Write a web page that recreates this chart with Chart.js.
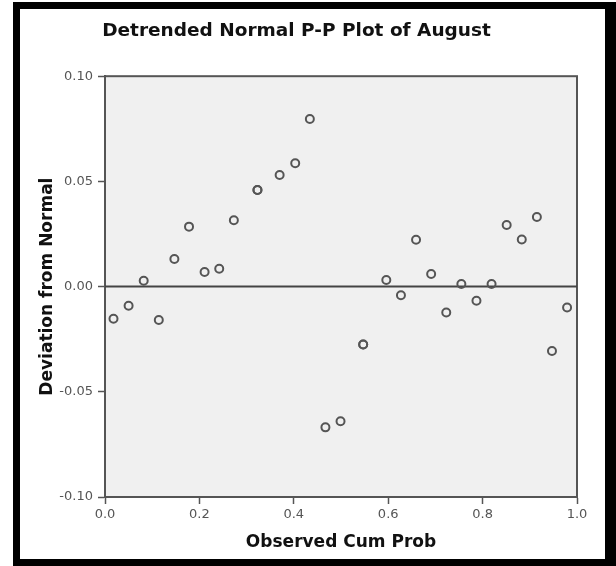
<!DOCTYPE html>
<html>
<head>
<meta charset="utf-8">
<title>Detrended Normal P-P Plot of August</title>
<script src="https://cdn.jsdelivr.net/npm/chart.js@4/dist/chart.umd.min.js"></script>
<style>
    html, body { margin: 0; padding: 0; background: #fff; }
    #wrap { position: relative; width: 616px; height: 566px; }
    #frame {
        position: absolute; left: 13px; top: 2px;
        width: 603px; height: 564px; box-sizing: border-box;
        border-style: solid; border-color: #000;
        border-width: 7px 11px 7px 7px;
        pointer-events: none;
    }
</style>
</head>
<body>
<div id="wrap">
    <canvas id="ppChart" width="616" height="566"></canvas>
    <div id="frame"></div>
</div>
<script>
// observed cumulative probability vs. deviation from normal
const observedCumProb = [
    0.018, 0.050, 0.082, 0.114, 0.147, 0.178, 0.211, 0.242, 0.273,
    0.323, 0.323, 0.370, 0.403, 0.434, 0.467, 0.499, 0.547, 0.547,
    0.596, 0.627, 0.659, 0.691, 0.723, 0.755, 0.787, 0.819, 0.851,
    0.883, 0.915, 0.947, 0.979
];
const deviationFromNormal = [
    -0.0153, -0.0091, 0.0028, -0.0159, 0.0131, 0.0285, 0.0069, 0.0085, 0.0315,
    0.0459, 0.0459, 0.0530, 0.0586, 0.0797, -0.0669, -0.0640, -0.0275, -0.0275,
    0.0031, -0.0041, 0.0223, 0.0060, -0.0123, 0.0012, -0.0067, 0.0012, 0.0293,
    0.0224, 0.0331, -0.0306, -0.0099
];
const referenceX = [0, 1];
const referenceY = [0, 0];
const xTicks = [0, 0.2, 0.4, 0.6, 0.8, 1.0];
const yTicks = [-0.10, -0.05, 0.00, 0.05, 0.10];

const axisGray = '#555';

const plotBackground = {
    id: 'plotBackground',
    beforeDraw(chart) {
        const { ctx, chartArea: a } = chart;
        ctx.save();
        ctx.fillStyle = '#f0f0f0';
        ctx.fillRect(a.left, a.top, a.right - a.left, a.bottom - a.top);
        ctx.restore();
    },
    beforeDatasetsDraw(chart) {
        const { ctx, chartArea: a } = chart;
        ctx.save();
        ctx.strokeStyle = axisGray;
        ctx.lineWidth = 2;
        ctx.strokeRect(a.left, a.top, a.right - a.left, a.bottom - a.top);
        ctx.restore();
    }
};

const ctx = document.getElementById('ppChart').getContext('2d');
new Chart(ctx, {
    data: {
        datasets: [{
            type: 'scatter',
            data: observedCumProb.map((p, i) => ({ x: p, y: deviationFromNormal[i] })),
            pointStyle: 'circle',
            pointRadius: 4,
            borderWidth: 2,
            borderColor: '#555',
            backgroundColor: 'rgba(0,0,0,0)',
            order: 0
        }, {
            type: 'line',
            data: referenceX.map((x, i) => ({ x: x, y: referenceY[i] })),
            borderColor: '#444',
            borderWidth: 2,
            pointRadius: 0,
            order: 1
        }]
    },
    options: {
        responsive: false,
        animation: false,
        layout: { padding: { left: 16, right: 39, top: 0, bottom: 0 } },
        plugins: {
            legend: { display: false },
            tooltip: { enabled: false },
            title: {
                display: true,
                text: 'Detrended Normal P-P Plot of August',
                color: '#111',
                font: { family: 'DejaVu Sans', size: 18.5, weight: 'bold' },
                padding: { top: 20, bottom: 34 }
            }
        },
        scales: {
            x: {
                type: 'linear',
                min: 0,
                max: 1,
                afterFit: s => { s.height = 69; },
                afterBuildTicks: s => { s.ticks = xTicks.map(v => ({ value: v })); },
                ticks: {
                    color: axisGray,
                    font: { family: 'DejaVu Sans', size: 13 },
                    padding: 3,
                    callback: v => v.toFixed(1)
                },
                grid: { drawOnChartArea: false, drawTicks: true, tickLength: 7, color: axisGray, tickWidth: 1.5 },
                border: { display: true, color: axisGray, width: 2 },
                title: {
                    display: true,
                    text: 'Observed Cum Prob',
                    color: '#111',
                    font: { family: 'DejaVu Sans', size: 17, weight: 'bold' },
                    padding: { top: 0, bottom: 13 }
                }
            },
            y: {
                type: 'linear',
                min: -0.1,
                max: 0.1,
                afterFit: s => { s.width = 89; },
                afterBuildTicks: s => { s.ticks = yTicks.map(v => ({ value: v })); },
                ticks: {
                    color: axisGray,
                    font: { family: 'DejaVu Sans', size: 13 },
                    padding: 5,
                    callback: v => v.toFixed(2)
                },
                grid: { drawOnChartArea: false, drawTicks: true, tickLength: 7, color: axisGray, tickWidth: 1.5 },
                border: { display: true, color: axisGray, width: 2 },
                title: {
                    display: true,
                    text: 'Deviation from Normal',
                    color: '#111',
                    font: { family: 'DejaVu Sans', size: 17, weight: 'bold' },
                    padding: { top: 21, bottom: 0 }
                }
            }
        }
    },
    plugins: [plotBackground]
});
</script>
</body>
</html>
